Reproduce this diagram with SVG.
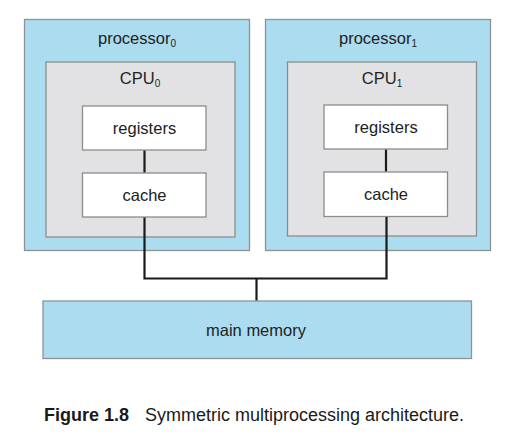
<svg xmlns="http://www.w3.org/2000/svg" width="507" height="441" viewBox="0 0 507 441">
<style>
.blue{fill:#acdcf0;stroke:#8c9296;stroke-width:1.3}
.gray{fill:#e2e2e4;stroke:#8c8c8c;stroke-width:1.3}
.white{fill:#ffffff;stroke:#8c8c8c;stroke-width:1.3}
.lbl{font-family:"Liberation Sans",Arial,sans-serif;font-size:16.5px;fill:#222;text-anchor:middle}
.sub{font-size:10px}
.wire{fill:none;stroke:#1a1a1a;stroke-width:2.2}
.cap{font-family:"Liberation Sans",Arial,sans-serif;font-size:18px;fill:#1a1a1a}
</style>
<rect width="507" height="441" fill="#ffffff"/>
<g id="processor0">
<rect class="blue" x="24.5" y="19.5" width="225" height="231"/>
<text class="lbl" x="137" y="44">processor<tspan class="sub" dy="3">0</tspan></text>
</g>
<g id="cpu0">
<rect class="gray" x="46" y="62" width="189" height="175"/>
<text class="lbl" x="140" y="84">CPU<tspan class="sub" dy="3">0</tspan></text>
</g>
<g id="registers0">
<rect class="white" x="82.5" y="106" width="123.5" height="44"/>
<text class="lbl" x="144.5" y="134">registers</text>
</g>
<g id="cache0">
<rect class="white" x="82.5" y="173" width="123.5" height="44"/>
<text class="lbl" x="144.5" y="201">cache</text>
</g>
<g id="processor1">
<rect class="blue" x="265.5" y="19.5" width="225" height="231"/>
<text class="lbl" x="378" y="44">processor<tspan class="sub" dy="3">1</tspan></text>
</g>
<g id="cpu1">
<rect class="gray" x="287.5" y="62" width="189" height="174"/>
<text class="lbl" x="382" y="84">CPU<tspan class="sub" dy="3">1</tspan></text>
</g>
<g id="registers1">
<rect class="white" x="324" y="105" width="123.5" height="44"/>
<text class="lbl" x="386" y="133">registers</text>
</g>
<g id="cache1">
<rect class="white" x="324" y="172" width="123.5" height="44.5"/>
<text class="lbl" x="386" y="200">cache</text>
</g>
<g id="main_memory">
<rect class="blue" x="43" y="301" width="428.5" height="57.5"/>
<text class="lbl" x="256" y="336">main memory</text>
</g>
<g id="connectors">
<path class="wire" d="M144.5,150.6 V172.4"/>
<path class="wire" d="M386,149.6 V171.4"/>
<path class="wire" d="M144.5,217.6 V278.5 H386.5 V217.1"/>
<path class="wire" d="M256.5,278.5 V300.4"/>
</g>
<g id="caption">
<text class="cap" x="44" y="421"><tspan font-weight="bold">Figure 1.8</tspan><tspan x="145">Symmetric multiprocessing architecture.</tspan></text>
</g>
</svg>
